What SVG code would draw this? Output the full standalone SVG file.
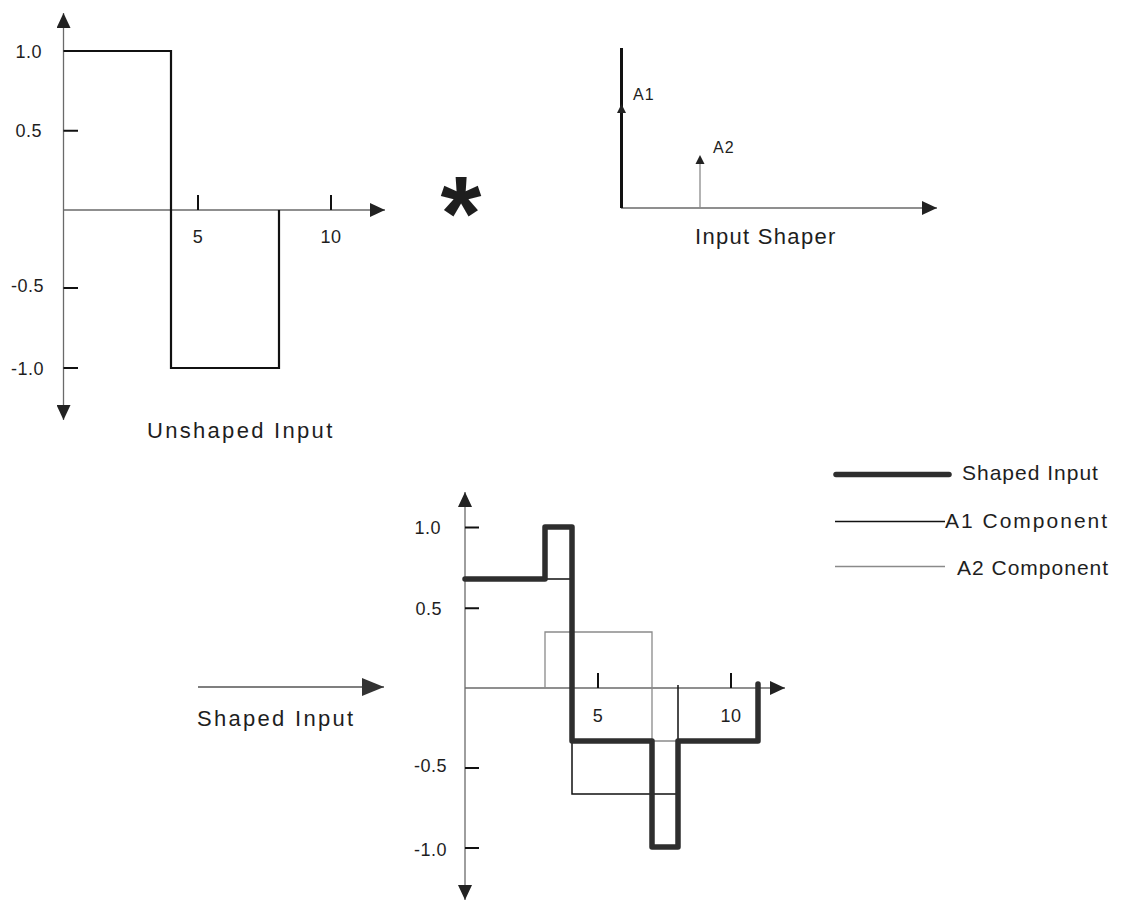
<svg xmlns="http://www.w3.org/2000/svg" width="1122" height="902" viewBox="0 0 1122 902">
<style>
text{font-family:"Liberation Sans",Arial,Helvetica,sans-serif;fill:#1e1e1e}
.tk{font-size:18px;letter-spacing:0.5px}
.lbl{font-size:22px}
.lg{font-size:21px}
.ax{stroke:#6a6a6a;stroke-width:1.3;fill:none}
.tick{stroke:#111;stroke-width:2;fill:none}
.pulse{stroke:#111;stroke-width:2.2;fill:none}
.shaped{stroke:#2e2e2e;stroke-width:5.5;fill:none;stroke-linecap:round;stroke-linejoin:round}
.a1{stroke:#111;stroke-width:1.5;fill:none}
.a2{stroke:#8a8a8a;stroke-width:1.3;fill:none}
.ah{fill:#222}
</style>
<defs>
<marker id="arr" markerUnits="userSpaceOnUse" markerWidth="16" markerHeight="14" refX="15" refY="7" orient="auto">
<path d="M0,0 L15,7 L0,14 z" fill="#222"/>
</marker>
</defs>

<g id="unshaped-input">
<line class="ax" x1="63.5" y1="210" x2="63.5" y2="13" marker-end="url(#arr)"/>
<line class="ax" x1="63.5" y1="210" x2="63.5" y2="420" marker-end="url(#arr)"/>
<line class="ax" x1="63.5" y1="210" x2="385" y2="210" marker-end="url(#arr)"/>
<path class="tick" d="M63.5,130.7H78M63.5,288H78M63.5,368H78M198,195V210M331,195V210"/>
<polyline class="pulse" points="63.5,51 171,51 171,368 279,368 279,210"/>
<text class="tk" x="42" y="57.5" text-anchor="end">1.0</text>
<text class="tk" x="42" y="137" text-anchor="end">0.5</text>
<text class="tk" x="44" y="292" text-anchor="end">-0.5</text>
<text class="tk" x="44" y="375" text-anchor="end">-1.0</text>
<text class="tk" x="198" y="243" text-anchor="middle">5</text>
<text class="tk" x="331" y="243" text-anchor="middle">10</text>
<text class="lbl" x="147" y="438" style="letter-spacing:2.3px">Unshaped Input</text>
</g>

<g id="convolution">
<text x="461" y="250" text-anchor="middle" style="font-size:105px;font-weight:bold">*</text>
</g>

<g id="input-shaper">
<line class="ax" x1="621" y1="208" x2="937" y2="208" marker-end="url(#arr)"/>
<line x1="621.5" y1="208" x2="621.5" y2="48" stroke="#111" stroke-width="3"/>
<polygon class="ah" points="621.5,104 617,113 626,113"/>
<line class="a2" x1="700" y1="208" x2="700" y2="160"/>
<polygon class="ah" points="700,155 695.5,164 704.5,164"/>
<text x="633" y="100" style="font-size:16px;letter-spacing:1px">A1</text>
<text x="713" y="153" style="font-size:16px;letter-spacing:1px">A2</text>
<text class="lbl" x="695" y="244" style="letter-spacing:1.3px">Input Shaper</text>
</g>

<g id="legend">
<line class="shaped" x1="836" y1="474.5" x2="949" y2="474.5"/>
<text class="lg" x="962" y="480" style="letter-spacing:1px">Shaped Input</text>
<line class="a1" x1="835" y1="521.5" x2="945" y2="521.5"/>
<text class="lg" x="945" y="528" style="letter-spacing:2px">A1 Component</text>
<line class="a2" x1="835" y1="566.5" x2="945" y2="566.5"/>
<text class="lg" x="957" y="575" style="letter-spacing:1px">A2 Component</text>
</g>

<g id="connectors">
<line x1="198" y1="687" x2="384" y2="687" stroke="#555" stroke-width="1.3"/>
<polygon points="384,687 362,678 362,696" fill="#333"/>
</g>
<text class="lbl" x="197" y="726" style="letter-spacing:2.3px">Shaped Input</text>

<g id="shaped-input-plot">
<line class="ax" x1="465" y1="688" x2="465" y2="492" marker-end="url(#arr)"/>
<line class="ax" x1="465" y1="688" x2="465" y2="900" marker-end="url(#arr)"/>
<line class="ax" x1="465" y1="688" x2="785" y2="688" marker-end="url(#arr)"/>
<path class="tick" d="M465,527.5H479M465,608.3H479M465,768H479M465,848H479M598,673V688M731,673V688"/>
<polyline class="a2" points="545,688 545,632 652,632 652,741 758,741 758,688"/>
<polyline class="a1" points="465,579 572,579 572,794 678,794 678,685"/>
<polyline class="shaped" points="465,579 545,579 545,527 572,527 572,741 652,741 652,847 678,847 678,741 758,741 758,684"/>
<text class="tk" x="441" y="534" text-anchor="end">1.0</text>
<text class="tk" x="442" y="615" text-anchor="end">0.5</text>
<text class="tk" x="447" y="772" text-anchor="end">-0.5</text>
<text class="tk" x="447" y="856" text-anchor="end">-1.0</text>
<text class="tk" x="598" y="722" text-anchor="middle">5</text>
<text class="tk" x="731" y="722" text-anchor="middle">10</text>
</g>
</svg>
